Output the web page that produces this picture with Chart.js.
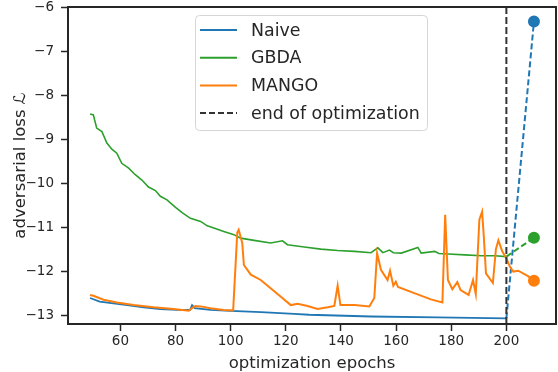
<!DOCTYPE html>
<html>
<head>
<meta charset="utf-8">
<script src="https://cdn.jsdelivr.net/npm/chart.js@4/dist/chart.umd.min.js"></script>
<style>
  html, body { margin: 0; padding: 0; background: #fff; }
  #wrap { width: 558px; height: 372px; }
</style>
</head>
<body>
<div id="wrap"><canvas id="myChart" width="558" height="372"></canvas></div>
<script>
  // values
  const naiveEpochs = [49, 52.5, 57.5, 62.5, 68.5, 74.5, 80.5, 85.3, 86, 87, 92.7, 100, 111, 123, 128.5, 150.9, 175, 200];
  const naiveLoss = [-12.61, -12.69, -12.73, -12.77, -12.82, -12.86, -12.88, -12.88, -12.77, -12.84, -12.88, -12.9, -12.93, -12.97, -12.99, -13.03, -13.05, -13.07];

  const gbdaEpochs = [49, 50.2, 51.4, 53.3, 55.1, 56.9, 58.7, 60.5, 63, 65.4, 67.8, 70.2, 72.7, 74.5, 76.9, 80, 82.4, 85.4, 89.1, 91.5, 93.9, 97.5,
    101.2, 103.6, 108.5, 114.5, 118.8, 120.6, 126.7, 132.7, 138.8, 144.9, 150.9, 153.4, 155.2, 157.6, 159, 161.9, 167.9, 169.1, 174, 175.5,
    178.9, 184.9, 191, 195.8, 200];
  const gbdaLoss = [-8.43, -8.45, -8.75, -8.83, -9.09, -9.23, -9.32, -9.55, -9.66, -9.81, -9.93, -10.09, -10.17, -10.3, -10.38, -10.55, -10.67, -10.8, -10.87, -10.97, -11.02, -11.1,
    -11.17, -11.25, -11.3, -11.36, -11.31, -11.4, -11.45, -11.5, -11.53, -11.55, -11.58, -11.47, -11.58, -11.52, -11.58, -11.59, -11.46, -11.59, -11.55, -11.6,
    -11.61, -11.63, -11.65, -11.65, -11.67];

  const mangoEpochs = [49, 50.2, 53.9, 58.7, 64.8, 72, 79.3, 84.8, 86, 87.2, 89.1, 92.7, 97.5, 100.9, 102.4, 102.9, 104.2, 104.8, 107.3, 110.9,
    114.5, 118.2, 121.8, 124.3, 127.9, 131.5, 135.2, 137.6, 138.8, 139.8, 144.9, 150.3, 152.1, 153.1, 154.5, 156.9, 157.8, 159, 159.9, 160.7,
    166.6, 172.6, 176.8, 177.8, 178.8, 180.4, 182.2, 183.4, 186.3, 187.9, 188.9, 190.2, 191.2, 191.8, 192.6, 195.1, 196.2, 197.1, 198.5,
    200.1, 201.3, 202.5, 204.3, 208, 210];
  const mangoLoss = [-12.54, -12.56, -12.65, -12.71, -12.77, -12.82, -12.86, -12.9, -12.84, -12.79, -12.8, -12.84, -12.88, -12.89, -11.12, -11.06, -11.36, -11.86, -12.08, -12.2,
    -12.39, -12.58, -12.77, -12.74, -12.79, -12.86, -12.82, -12.79, -12.33, -12.77, -12.77, -12.8, -12.61, -11.59, -11.97, -12.2, -11.99, -12.33, -12.24, -12.36,
    -12.5, -12.64, -12.71, -10.72, -12.2, -12.41, -12.25, -12.43, -12.54, -12.2, -12.52, -10.83, -10.65, -11.2, -12.05, -12.27, -11.5, -11.3, -11.55,
    -11.72, -11.9, -12.01, -11.99, -12.12, -12.22];

  // after the end of optimization
  const endEpochs = [200, 210];
  const naiveEnd = [-13.07, -6.33];
  const gbdaEnd = [-11.67, -11.24];

  const xTicks = [60, 80, 100, 120, 140, 160, 180, 200];
  const yTicks = [-13, -12, -11, -10, -9, -8, -7, -6];

  const blue = '#1f77b4';
  const green = '#2ca02c';
  const orange = '#ff7f0e';
  const dark = '#262626';

  function pts(xs, ys) {
    return xs.map((x, i) => ({ x: x, y: ys[i] }));
  }
  function minus(v) {
    return String(v).replace('-', '\u2212');
  }

  const legendItems = [
    { label: 'Naive', color: blue, dash: [] },
    { label: 'GBDA', color: green, dash: [] },
    { label: 'MANGO', color: orange, dash: [] },
    { label: 'end of optimization', color: '#333', dash: [6, 3] },
  ];

  const boxPlugin = {
    id: 'box',
    afterDraw(chart) {
      const ctx = chart.ctx;
      const a = chart.chartArea;
      ctx.save();
      ctx.strokeStyle = dark;
      ctx.lineWidth = 2;
      ctx.strokeRect(a.left, a.top, a.right - a.left, a.bottom - a.top);

      // legend inside the axes, matplotlib style
      const lx = 195.5, ly = 15.5, lw = 232, lh = 115;
      ctx.beginPath();
      ctx.roundRect(lx, ly, lw, lh, 4);
      ctx.fillStyle = 'rgba(255,255,255,0.8)';
      ctx.fill();
      ctx.strokeStyle = '#d5d5d5';
      ctx.lineWidth = 1;
      ctx.stroke();
      ctx.font = '17.4px "DejaVu Sans"';
      ctx.textBaseline = 'middle';
      legendItems.forEach((it, i) => {
        const y = 30 + i * 27.7;
        ctx.beginPath();
        ctx.setLineDash(it.dash);
        ctx.strokeStyle = it.color;
        ctx.lineWidth = 2;
        ctx.moveTo(200, y);
        ctx.lineTo(237, y);
        ctx.stroke();
        ctx.setLineDash([]);
        ctx.fillStyle = dark;
        ctx.fillText(it.label, 251, y + 1);
      });
      ctx.restore();
    }
  };

  const data = {
    datasets: [
      {
        label: 'end of optimization',
        data: pts([200, 200], [-13.2, -6]),
        borderColor: '#333',
        borderWidth: 2,
        borderDash: [7, 3],
        pointRadius: 0,
        order: 0
      },
      {
        label: 'MANGO',
        data: pts(mangoEpochs, mangoLoss),
        borderColor: orange,
        backgroundColor: orange,
        borderWidth: 2,
        pointRadius: ctx => ctx.dataIndex === mangoEpochs.length - 1 ? 5 : 0,
        order: 1
      },
      {
        label: 'Naive end',
        data: pts(endEpochs, naiveEnd),
        borderColor: blue,
        backgroundColor: blue,
        borderWidth: 2,
        borderDash: [6, 3],
        pointRadius: [0, 5],
        order: 2
      },
      {
        label: 'GBDA end',
        data: pts(endEpochs, gbdaEnd),
        borderColor: green,
        backgroundColor: green,
        borderWidth: 2,
        borderDash: [6, 3],
        pointRadius: [0, 5],
        order: 2
      },
      {
        label: 'GBDA',
        data: pts(gbdaEpochs, gbdaLoss),
        borderColor: green,
        borderWidth: 1.6,
        pointRadius: 0,
        order: 3
      },
      {
        label: 'Naive',
        data: pts(naiveEpochs, naiveLoss),
        borderColor: blue,
        borderWidth: 1.8,
        pointRadius: 0,
        order: 4
      }
    ]
  };

  const tickFont = { family: 'DejaVu Sans', size: 13.5 };
  const titleFont = { family: 'DejaVu Sans', size: 16.5, lineHeight: 1 };

  const config = {
    type: 'line',
    data: data,
    plugins: [boxPlugin],
    options: {
      responsive: false,
      animation: false,
      layout: { autoPadding: false, padding: { top: 7, right: 2, left: 0, bottom: 0 } },
      plugins: {
        legend: { display: false },
        tooltip: { enabled: false }
      },
      elements: { line: { tension: 0 } },
      scales: {
        x: {
          type: 'linear',
          min: 41,
          max: 218,
          afterBuildTicks: s => { s.ticks = xTicks.map(v => ({ value: v })); },
          afterFit: s => { s.height = 48; s.paddingLeft = 0; s.paddingRight = 0; },
          ticks: { font: tickFont, color: dark, padding: 2, maxRotation: 0 },
          grid: { drawOnChartArea: false, tickLength: 7, color: dark, tickWidth: 1.5 },
          border: { display: true, color: dark, width: 2 },
          title: { display: true, text: 'optimization epochs', font: titleFont, color: dark, padding: { top: 0, bottom: 0 } }
        },
        y: {
          type: 'linear',
          min: -13.2,
          max: -6,
          afterBuildTicks: s => { s.ticks = yTicks.map(v => ({ value: v })); },
          afterFit: s => { s.width = 68; s.paddingTop = 0; s.paddingBottom = 0; },
          ticks: { font: tickFont, color: dark, padding: 7, callback: v => minus(v) },
          grid: { drawOnChartArea: false, tickLength: 7, color: dark, tickWidth: 1.5 },
          border: { display: true, color: dark, width: 2 },
          title: { display: true, text: 'adversarial loss \u2112', font: titleFont, color: dark, padding: { top: 12, bottom: 0 } }
        }
      }
    }
  };

  const myChart = new Chart(document.getElementById('myChart'), config);
</script>
</body>
</html>
